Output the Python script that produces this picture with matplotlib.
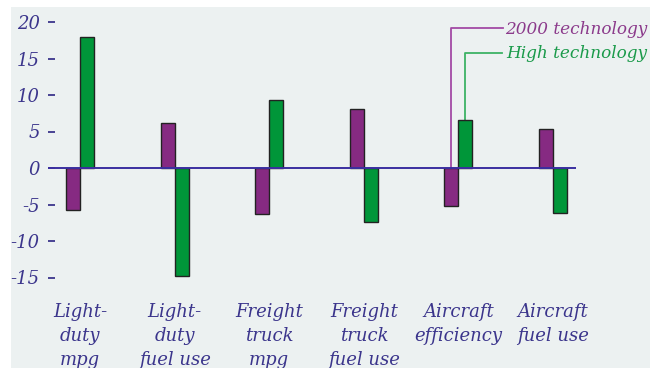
import matplotlib
matplotlib.use("Agg")
import matplotlib.pyplot as plt
import matplotlib.transforms as mtransforms
from matplotlib.patches import Rectangle

categories = ["Light-\nduty\nmpg", "Light-\nduty\nfuel use", "Freight\ntruck\nmpg",
              "Freight\ntruck\nfuel use", "Aircraft\nefficiency", "Aircraft\nfuel use"]
tech2000 = [-5.7, 6.2, -6.3, 8.1, -5.2, 5.3]
high_tech = [17.9, -14.8, 9.3, -7.4, 6.6, -6.2]
yticks = [-15, -10, -5, 0, 5, 10, 15, 20]
ytick_labels = ["-15", "-10", "-5", "0", "5", "10", "15", "20"]
series_names = ["2000 technology", "High technology"]

W, H = 650, 368
fig = plt.figure(figsize=(W / 100, H / 100), dpi=100)
fig.patch.set_facecolor("white")

# panel background
fig.patches.append(Rectangle((11 / W, 0), 1 - 11 / W, (H - 7) / H,
                             transform=fig.transFigure, facecolor="#ecf1f1",
                             edgecolor="none", zorder=-5))

txt_col = "#3b358c"
purple = "#862a82"
green = "#009639"
font = dict(family="DejaVu Serif", style="italic")

# axes geometry (pixels)
left_px, right_px = 48, 576
top_px, bot_px = 7, 295
zero_px = 168
ppu = 7.3
ax = fig.add_axes([left_px / W, (H - bot_px) / H, (right_px - left_px) / W, (bot_px - top_px) / H])
ax.set_zorder(1)
ax.set_ylim(-(bot_px - zero_px) / ppu, (zero_px - top_px) / ppu)
spacing = 94.6
ax.set_xlim((left_px - 80) / spacing, (right_px - 80) / spacing)
ax.patch.set_visible(False)
for s in ax.spines.values():
    s.set_visible(False)

bw = 14 / spacing
x = list(range(len(categories)))
ax.bar([i - bw / 2 for i in x], tech2000, width=bw, color=purple, edgecolor="#222222",
       linewidth=1.0, zorder=2)
ax.bar([i + bw / 2 for i in x], high_tech, width=bw, color=green, edgecolor="#222222",
       linewidth=1.0, zorder=2)
ax.axhline(0, color="#3b2fa0", lw=1.4, zorder=3)

ax.set_yticks(yticks)
ax.set_yticklabels(ytick_labels, color=txt_col, fontsize=13, **font)
ax.tick_params(axis="y", direction="in", length=5.0, width=1.3, color=txt_col, pad=6)
ax.set_xticks([])

trans = mtransforms.blended_transform_factory(ax.transData, fig.transFigure)
for i, lab in enumerate(categories):
    ax.text(i, (H - 303) / H, lab, transform=trans, ha="center", va="top",
            color=txt_col, fontsize=13, linespacing=1.42, **font)

# legend labels with leader lines
lp = "#a24aa5"
lg = "#3cb265"
def dx2px(v):
    return 80 + spacing * v
p_x = dx2px(4 - bw / 2)
g_x = dx2px(4 + bw / 2)
g_top = zero_px - high_tech[4] * ppu
fig.lines.append(plt.Line2D([503 / W, p_x / W, p_x / W],
                            [(H - 28) / H, (H - 28) / H, (H - zero_px) / H],
                            transform=fig.transFigure, color=lp, lw=1.3, zorder=0.5))
fig.lines.append(plt.Line2D([502 / W, g_x / W, g_x / W],
                            [(H - 53) / H, (H - 53) / H, (H - g_top) / H],
                            transform=fig.transFigure, color=lg, lw=1.3, zorder=0.5))
fig.text(647 / W, (H - 29) / H, series_names[0], ha="right", va="center",
         color="#8b3a8b", fontsize=12.2, **font)
fig.text(647 / W, (H - 53) / H, series_names[1], ha="right", va="center",
         color="#1a9a4a", fontsize=12.2, **font)

fig.savefig("out.png", dpi=100)
